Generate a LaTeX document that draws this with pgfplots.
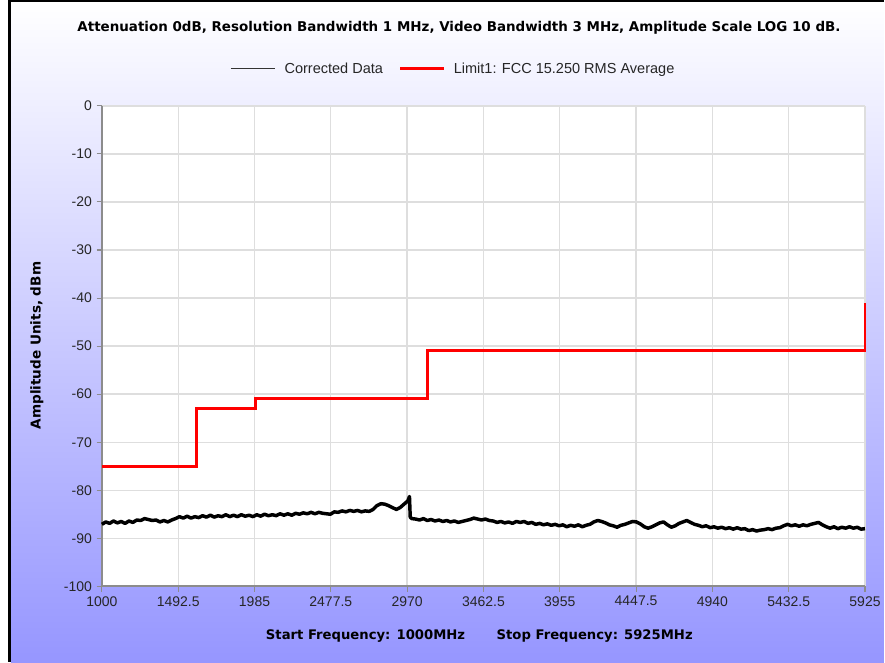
\documentclass[border=0pt]{standalone}
\usepackage{fontspec}
\setmainfont{Liberation Sans}
\newfontfamily\verdana{DejaVu Sans}
\usepackage{pgfplots}
\pgfplotsset{compat=1.18}
\definecolor{bgblue}{RGB}{150,150,255}
\definecolor{limitred}{RGB}{255,0,0}
\definecolor{gridgray}{RGB}{222,222,222}
\definecolor{axgray}{RGB}{140,140,140}

\pgfplotstableread{
f db
1000 -87.1
1025 -86.6
1050 -86.9
1075 -86.4
1100 -86.8
1125 -86.5
1150 -86.9
1175 -86.4
1200 -86.7
1225 -86.2
1250 -86.3
1275 -85.9
1300 -86.1
1325 -86.3
1350 -86.2
1375 -86.6
1400 -86.3
1425 -86.6
1450 -86.2
1475 -85.9
1500 -85.5
1525 -85.8
1550 -85.4
1575 -85.8
1600 -85.5
1625 -85.7
1650 -85.3
1675 -85.6
1700 -85.2
1725 -85.6
1750 -85.3
1775 -85.5
1800 -85.1
1825 -85.5
1850 -85.2
1875 -85.5
1900 -85.1
1925 -85.4
1950 -85.2
1975 -85.5
2000 -85.1
2025 -85.4
2050 -85.0
2075 -85.3
2100 -85.1
2125 -85.3
2150 -84.9
2175 -85.2
2200 -84.9
2225 -85.2
2250 -84.8
2275 -85.0
2300 -84.7
2325 -84.9
2350 -84.6
2375 -84.9
2400 -84.6
2425 -84.8
2450 -84.9
2475 -85.0
2500 -84.5
2525 -84.6
2550 -84.3
2575 -84.5
2600 -84.2
2625 -84.4
2650 -84.2
2675 -84.5
2700 -84.3
2725 -84.4
2750 -84.0
2775 -83.2
2800 -82.8
2825 -82.9
2850 -83.2
2875 -83.6
2900 -84.0
2925 -83.6
2950 -82.9
2975 -82.2
2985 -81.3
2990 -85.6
3000 -85.9
3025 -86.0
3050 -86.2
3075 -85.9
3100 -86.3
3125 -86.1
3150 -86.4
3175 -86.2
3200 -86.5
3225 -86.3
3250 -86.6
3275 -86.4
3300 -86.7
3325 -86.5
3350 -86.3
3375 -86.1
3400 -85.8
3425 -86.0
3450 -86.2
3475 -86.0
3500 -86.3
3525 -86.4
3550 -86.7
3575 -86.5
3600 -86.8
3625 -86.6
3650 -86.9
3675 -86.5
3700 -86.7
3725 -86.5
3750 -86.9
3775 -86.7
3800 -87.1
3825 -86.9
3850 -87.2
3875 -87.0
3900 -87.3
3925 -87.1
3950 -87.4
3975 -87.2
4000 -87.6
4025 -87.3
4050 -87.5
4075 -87.2
4100 -87.6
4125 -87.3
4150 -87.1
4175 -86.6
4200 -86.3
4225 -86.5
4250 -86.8
4275 -87.2
4300 -87.4
4325 -87.7
4350 -87.3
4375 -87.1
4400 -86.8
4425 -86.5
4450 -86.6
4475 -87.0
4500 -87.6
4525 -87.9
4550 -87.6
4575 -87.2
4600 -86.8
4625 -86.6
4650 -87.2
4675 -87.7
4700 -87.4
4725 -86.9
4750 -86.6
4775 -86.3
4800 -86.7
4825 -87.1
4850 -87.3
4875 -87.6
4900 -87.4
4925 -87.8
4950 -87.6
4975 -87.9
5000 -87.7
5025 -88.0
5050 -87.8
5075 -88.1
5100 -87.8
5125 -88.1
5150 -88.0
5175 -88.4
5200 -88.2
5225 -88.5
5250 -88.3
5275 -88.2
5300 -88.0
5325 -88.2
5350 -87.9
5375 -87.8
5400 -87.4
5425 -87.1
5450 -87.4
5475 -87.2
5500 -87.5
5525 -87.2
5550 -87.4
5575 -87.1
5600 -86.9
5625 -86.7
5650 -87.2
5675 -87.6
5700 -87.9
5725 -87.6
5750 -88.0
5775 -87.7
5800 -87.9
5825 -87.6
5850 -87.9
5875 -87.7
5900 -88.1
5925 -88.0
}\corrected

\pgfplotstableread{
f db
1000 -75
1610 -75
1610 -63
1990 -63
1990 -61
3100 -61
3100 -51
5925 -51
5925 -41
}\limitone

\begin{document}
\begin{tikzpicture}
% background of the whole panel
\fill[white] (0,0) rectangle (663.75pt,497.25pt);
\shade[top color=white, bottom color=bgblue] (8.25pt,0) rectangle (663.75pt,496pt);
\fill[black] (6pt,0) rectangle (8.25pt,497.25pt);
\fill[black] (6pt,495.75pt) rectangle (663.75pt,497.25pt);

\begin{axis}[
    at={(76.5pt,57pt)}, anchor=south west,
    scale only axis, width=573pt, height=360.75pt,
    xmin=1000, xmax=5925, ymin=-100, ymax=0,
    clip=false,
    axis background/.style={fill=white},
    axis x line=bottom, axis y line=left,
    axis line style={-, draw=axgray, line width=1.3pt},
    tick align=outside, major tick length=4pt,
    tick style={draw=axgray, line width=0.8pt},
    xtick={1000,1492.5,1985,2477.5,2970,3462.5,3955,4447.5,4940,5432.5,5925},
    xticklabels={1000,1492.5,1985,2477.5,2970,3462.5,3955,4447.5,4940,5432.5,5925},
    ytick={-100,-90,-80,-70,-60,-50,-40,-30,-20,-10,0},
    yticklabels={-100,-90,-80,-70,-60,-50,-40,-30,-20,-10,0},
    ticklabel style={font=\fontsize{10.5}{12}\selectfont, text=black!85},
    grid=major, major grid style={draw=gridgray, line width=1pt},
    legend columns=2,
    legend style={draw=none, fill=none, at={(0.461,1.077)}, anchor=center,
        font=\fontsize{10.9}{12}\selectfont, text=black!85,
        /tikz/every even column/.append style={column sep=10pt}},
]
\addplot[black, line width=2.6pt, line join=round,
    legend image code/.code={\draw[black!80, line width=0.8pt] (0pt,0pt) -- (33pt,0pt); \path (37pt,0pt);}]
    table[x=f, y=db] {\corrected};
\addlegendentry{Corrected Data}
\addplot[limitred, line width=2.2pt,
    legend image code/.code={\draw[limitred, line width=2.2pt] (0pt,0pt) -- (33pt,0pt); \path (37pt,0pt);}]
    table[x=f, y=db] {\limitone};
\addlegendentry{Limit1: FCC 15.250 RMS Average}
\end{axis}

\node[font=\verdana\bfseries\fontsize{10.1}{12}\selectfont] at (344.6pt,476.25pt)
    {Attenuation 0dB, Resolution Bandwidth 1 MHz, Video Bandwidth 3 MHz, Amplitude Scale LOG 10 dB.};
\node[font=\verdana\bfseries\fontsize{10.2}{12}\selectfont, rotate=90] at (27.75pt,237.75pt)
    {Amplitude Units, dBm};
\node[font=\verdana\bfseries\fontsize{9.9}{12}\selectfont, anchor=west, inner sep=0pt] at (199.5pt,19.5pt)
    {Start Frequency: 1000MHz};
\node[font=\verdana\bfseries\fontsize{9.9}{12}\selectfont, anchor=west, inner sep=0pt] at (372.75pt,19.5pt)
    {Stop Frequency: 5925MHz};
\end{tikzpicture}
\end{document}
